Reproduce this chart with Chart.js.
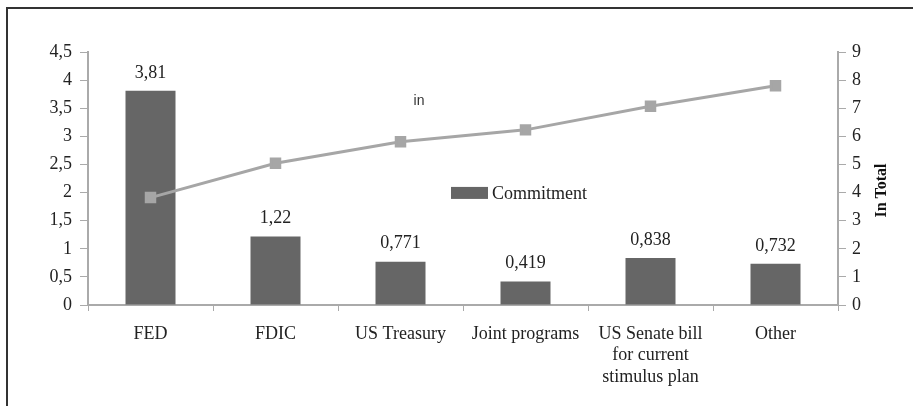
<!DOCTYPE html>
<html>
<head>
<meta charset="utf-8">
<script src="https://cdn.jsdelivr.net/npm/chart.js@4.4.1/dist/chart.umd.min.js"></script>
<style>
    html, body { margin: 0; padding: 0; background: #fff; }
    #wrap { position: relative; width: 913px; height: 406px; }
    #frame { position: absolute; left: 6px; top: 7px; right: -4px; bottom: -4px; border-top: 2px solid #333; border-left: 2px solid #333; pointer-events: none; }
</style>
</head>
<body>
<div id="wrap">
    <canvas id="commitChart" width="913" height="406"></canvas>
    <div id="frame"></div>
</div>
<script>
const categories = ["FED", "FDIC", "US Treasury", "Joint programs", ["US Senate bill", "for current", "stimulus plan"], "Other"];
const commitment = [3.81, 1.22, 0.771, 0.419, 0.838, 0.732];
const inTotal = [3.82, 5.04, 5.81, 6.23, 7.07, 7.80];
const leftTicks = [0, 0.5, 1, 1.5, 2, 2.5, 3, 3.5, 4, 4.5];
const rightTicks = [0, 1, 2, 3, 4, 5, 6, 7, 8, 9];

const serif = "'Liberation Serif', 'Times New Roman', serif";
const commaNum = v => String(v).replace(".", ",");

// labels above bars, legend box in the middle, stray "in" label and right axis title
const extrasPlugin = {
    id: "extras",
    afterDatasetsDraw(chart) {
        const ctx = chart.ctx;
        const area = chart.chartArea;
        const barMeta = chart.getDatasetMeta(0);

        ctx.save();
        ctx.fillStyle = "#222";
        ctx.font = "18px " + serif;
        ctx.textAlign = "center";
        ctx.textBaseline = "middle";
        barMeta.data.forEach((bar, i) => {
            ctx.fillText(commaNum(commitment[i]), bar.x, bar.y - 18);
        });

        // legend
        const lx = (area.left + area.right) / 2 - 12;
        const ly = area.top + (area.bottom - area.top) * 0.557;
        ctx.fillStyle = "#666";
        ctx.fillRect(lx, ly - 6, 37, 12);
        ctx.fillStyle = "#222";
        ctx.textAlign = "left";
        ctx.font = "18px " + serif;
        ctx.fillText(chart.data.datasets[0].label, lx + 41, ly + 1);

        // "in"
        ctx.font = "14px 'Liberation Sans', Arial, sans-serif";
        ctx.textAlign = "center";
        ctx.fillStyle = "#333";
        ctx.fillText("in", lx - 32, area.top + 49);

        // right axis title
        const y1 = chart.scales.y1;
        ctx.translate(y1.right - 31, (area.top + area.bottom) / 2 + 12);
        ctx.rotate(-Math.PI / 2);
        ctx.font = "bold 16px " + serif;
        ctx.fillStyle = "#111";
        ctx.fillText("In Total", 0, 0);
        ctx.restore();
    }
};

const ctx = document.getElementById("commitChart").getContext("2d");

new Chart(ctx, {
    type: "bar",
    data: {
        labels: categories,
        datasets: [
            {
                type: "bar",
                label: "Commitment",
                data: commitment,
                backgroundColor: "#666666",
                barPercentage: 0.4,
                categoryPercentage: 1,
                yAxisID: "y",
                order: 2
            },
            {
                type: "line",
                label: "In Total",
                data: inTotal,
                borderColor: "#a6a6a6",
                borderWidth: 3,
                pointStyle: "rect",
                pointRadius: 6,
                pointBackgroundColor: "#a6a6a6",
                pointBorderColor: "#a6a6a6",
                yAxisID: "y1",
                order: 1
            }
        ]
    },
    options: {
        responsive: false,
        animation: false,
        layout: { padding: { top: 52, left: 0, right: 0, bottom: 0 } },
        plugins: {
            legend: { display: false },
            tooltip: { enabled: false }
        },
        scales: {
            x: {
                grid: { drawOnChartArea: false, color: "#aaa", tickLength: 6 },
                border: { color: "#aaa", width: 2 },
                ticks: {
                    color: "#222",
                    font: { family: serif, size: 18, lineHeight: 1.2 },
                    padding: 12,
                    maxRotation: 0,
                    autoSkip: false
                },
                afterFit(scale) { scale.height = 101; }
            },
            y: {
                position: "left",
                min: 0,
                max: 4.5,
                afterBuildTicks(scale) { scale.ticks = leftTicks.map(v => ({ value: v })); },
                grid: { drawOnChartArea: false, color: "#aaa", tickLength: 8 },
                border: { color: "#aaa", width: 2 },
                ticks: {
                    color: "#222",
                    font: { family: serif, size: 18 },
                    padding: 8,
                    callback: v => commaNum(v)
                },
                afterFit(scale) { scale.width = 88; }
            },
            y1: {
                position: "right",
                min: 0,
                max: 9,
                afterBuildTicks(scale) { scale.ticks = rightTicks.map(v => ({ value: v })); },
                grid: { drawOnChartArea: false, color: "#aaa", tickLength: 8 },
                border: { color: "#aaa", width: 2 },
                ticks: {
                    color: "#222",
                    font: { family: serif, size: 18 },
                    padding: 6
                },
                afterFit(scale) { scale.width = 75; }
            }
        }
    },
    plugins: [extrasPlugin]
});
</script>
</body>
</html>
